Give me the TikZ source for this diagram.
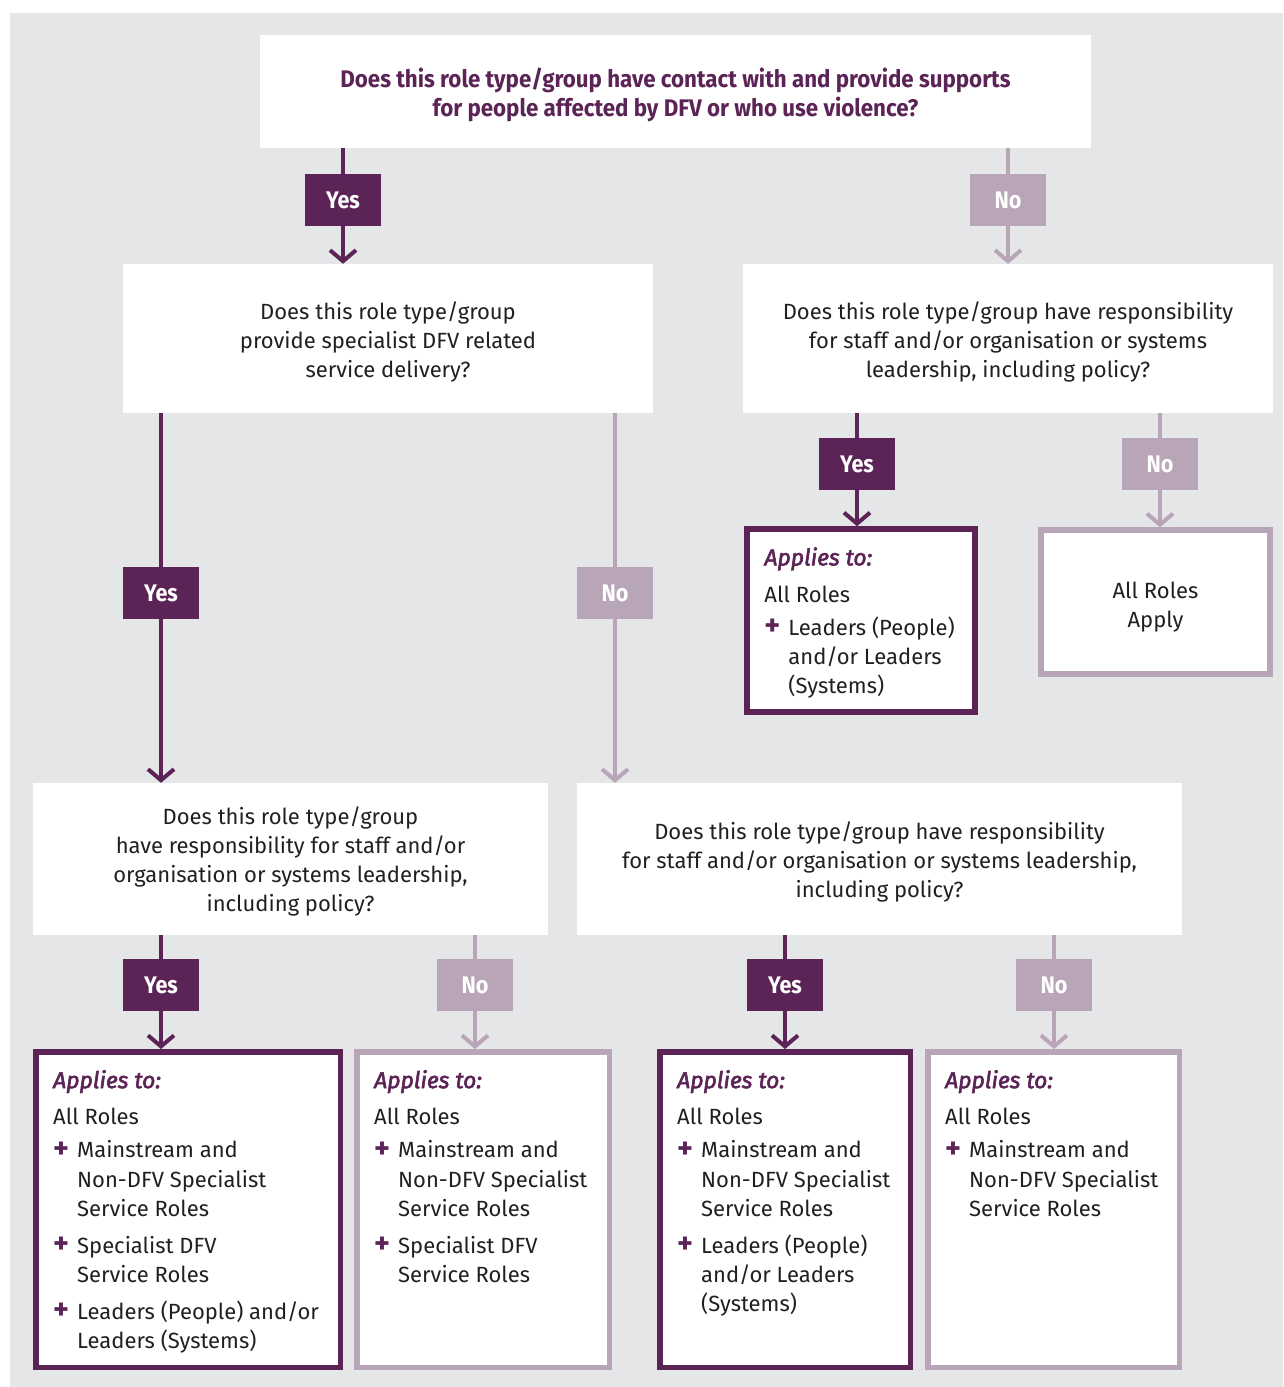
\documentclass[tikz,border=0pt]{standalone}
\usepackage{fontspec}
\setmainfont{Fira Sans}
\newfontfamily\condf[FakeStretch=0.93]{Fira Sans}
\newfontfamily\labf[FakeStretch=0.9]{Fira Sans}
\newfontfamily\applf[FakeBold=2.5]{Fira Sans}
\usetikzlibrary{arrows.meta}
\definecolor{dpurple}{HTML}{5B2356}
\definecolor{lpurple}{HTML}{B9A5B8}
\definecolor{bggrey}{HTML}{E5E6E8}
\definecolor{txt}{HTML}{231F20}
\newcommand\appl{{\applf\itshape\color{dpurple}\fontsize{23}{29}\selectfont Applies to:}}
\newcommand\plusit{\makebox[24pt][l]{\textcolor{dpurple}{\bfseries\fontsize{30}{29}\selectfont\raisebox{-0.5pt}{+}}}}
\newcommand\indt{\hspace*{24pt}}
\begin{document}
\begin{tikzpicture}[x=1pt,y=-1pt,
  qbox/.style={fill=white, draw=none, inner sep=0pt},
  qtext/.style={inner sep=0pt, align=center, text=txt,
    font=\fontsize{22}{29}\selectfont},
  ttext/.style={qtext, text=dpurple, font=\condf\bfseries\fontsize{24}{29}\selectfont},
  ylab/.style={fill=dpurple, text=white, minimum width=76pt, minimum height=52pt,
    inner sep=0pt, text height=17pt, text depth=0pt,
    font=\labf\bfseries\fontsize{24}{28}\selectfont},
  nlab/.style={ylab, fill=lpurple},
  dbox/.style={draw=dpurple, line width=5.5pt, fill=white, inner sep=0pt},
  lbox/.style={dbox, draw=lpurple},
  btext/.style={anchor=north west, inner sep=0pt, align=left, text=txt,
    font=\fontsize{22}{29.3}\selectfont},
  dline/.style={draw=dpurple, line width=4pt},
  lline/.style={draw=lpurple, line width=4pt},
  dar/.style={dline, -{Straight Barb[length=11pt,width=26pt,line join=miter]}},
  lar/.style={lline, -{Straight Barb[length=11pt,width=26pt,line join=miter]}}
]
\useasboundingbox (0,0) rectangle (1283,1387);
\fill[white] (0,0) rectangle (1283,1387);
\fill[bggrey] (10,13) rectangle (1283,1387);

% question boxes
\node[qbox, minimum width=831pt, minimum height=113pt] (q1) at (675.5,91.5) {};
\node[ttext] (q1t) at ([yshift=-3pt]q1.center)
  {Does this role type/group have contact with and provide supports\\
   for people affected by DFV or who use violence?};
\node[qbox, minimum width=530pt, minimum height=149pt] (q2l) at (388,338.5) {};
\node[qtext] (q2lt) at ([yshift=-3pt]q2l.center)
  {Does this role type/group\\provide specialist DFV related\\service delivery?};
\node[qbox, minimum width=530pt, minimum height=149pt] (q2r) at (1008,338.5) {};
\node[qtext] (q2rt) at ([yshift=-3pt]q2r.center)
  {Does this role type/group have responsibility\\for staff and/or organisation or systems\\leadership, including policy?};
\node[qbox, minimum width=515pt, minimum height=152pt] (q3l) at (290.5,859) {};
\node[qtext] (q3lt) at ([yshift=-2.5pt]q3l.center)
  {Does this role type/group\\have responsibility for staff and/or\\organisation or systems leadership,\\including policy?};
\node[qbox, minimum width=605pt, minimum height=152pt] (q3r) at (879.5,859) {};
\node[qtext] (q3rt) at ([yshift=-3pt]q3r.center)
  {Does this role type/group have responsibility\\for staff and/or organisation or systems leadership,\\including policy?};

% labels
\node[ylab] (yes1) at (343,200) {Yes};
\node[nlab] (no1) at (1008,200) {No};
\node[ylab] (yes2) at (161,593) {Yes};
\node[nlab] (no2) at (615,593) {No};
\node[ylab] (yes3) at (857,464) {Yes};
\node[nlab] (no3) at (1160,464) {No};
\node[ylab] (yes4) at (161,985) {Yes};
\node[nlab] (no4) at (475,985) {No};
\node[ylab] (yes5) at (785,985) {Yes};
\node[nlab] (no5) at (1054,985) {No};

% answer boxes
\node[dbox, minimum width=228pt, minimum height=183pt] (a1) at (861,620.5) {};
\node[lbox, minimum width=229pt, minimum height=144pt] (a2) at (1155.5,602) {};
\node[qtext] (a2t) at ([yshift=-5pt]a2.center) {All Roles\\Apply};
\node[dbox, minimum width=304.5pt, minimum height=315.5pt] (b1) at (188,1209.5) {};
\node[lbox, minimum width=252.5pt, minimum height=315.5pt] (b2) at (483,1209.5) {};
\node[dbox, minimum width=250.5pt, minimum height=315.5pt] (b3) at (785,1209.5) {};
\node[lbox, minimum width=251.5pt, minimum height=315.5pt] (b4) at (1053.5,1209.5) {};

% texts of answer boxes
\node[btext] (a1t) at ([shift={(20,21)}]a1.north west)
  {\appl\\[7.5pt]
   All Roles\\[3.5pt]
   \plusit Leaders (People)\\
   \indt and/or Leaders\\
   \indt (Systems)};
\node[btext] (b1t) at ([shift={(20,21)}]b1.north west)
  {\appl\\[7.5pt]
   All Roles\\[3.5pt]
   \plusit Mainstream and\\
   \indt Non-DFV Specialist\\
   \indt Service Roles\\[7.5pt]
   \plusit Specialist DFV\\
   \indt Service Roles\\[7.5pt]
   \plusit Leaders (People) and/or\\
   \indt Leaders (Systems)};
\node[btext] (b2t) at ([shift={(20,21)}]b2.north west)
  {\appl\\[7.5pt]
   All Roles\\[3.5pt]
   \plusit Mainstream and\\
   \indt Non-DFV Specialist\\
   \indt Service Roles\\[7.5pt]
   \plusit Specialist DFV\\
   \indt Service Roles};
\node[btext] (b3t) at ([shift={(20,21)}]b3.north west)
  {\appl\\[7.5pt]
   All Roles\\[3.5pt]
   \plusit Mainstream and\\
   \indt Non-DFV Specialist\\
   \indt Service Roles\\[7.5pt]
   \plusit Leaders (People)\\
   \indt and/or Leaders\\
   \indt (Systems)};
\node[btext] (b4t) at ([shift={(20,21)}]b4.north west)
  {\appl\\[7.5pt]
   All Roles\\[3.5pt]
   \plusit Mainstream and\\
   \indt Non-DFV Specialist\\
   \indt Service Roles};

% connectors
\draw[dline] (yes1.north |- q1.south) -- (yes1.north);
\draw[dar] (yes1.south) -- (yes1.south |- q2l.north);
\draw[lline] (no1.north |- q1.south) -- (no1.north);
\draw[lar] (no1.south) -- (no1.south |- q2r.north);

\draw[dline] (yes2.north |- q2l.south) -- (yes2.north);
\draw[dar] (yes2.south) -- (yes2.south |- q3l.north);
\draw[lline] (no2.north |- q2l.south) -- (no2.north);
\draw[lar] (no2.south) -- (no2.south |- q3r.north);

\draw[dline] (yes3.north |- q2r.south) -- (yes3.north);
\draw[dar] (yes3.south) -- (yes3.south |- a1.north);
\draw[lline] (no3.north |- q2r.south) -- (no3.north);
\draw[lar] (no3.south) -- (no3.south |- a2.north);

\draw[dline] (yes4.north |- q3l.south) -- (yes4.north);
\draw[dar] (yes4.south) -- (yes4.south |- b1.north);
\draw[lline] (no4.north |- q3l.south) -- (no4.north);
\draw[lar] (no4.south) -- (no4.south |- b2.north);
\draw[dline] (yes5.north |- q3r.south) -- (yes5.north);
\draw[dar] (yes5.south) -- (yes5.south |- b3.north);
\draw[lline] (no5.north |- q3r.south) -- (no5.north);
\draw[lar] (no5.south) -- (no5.south |- b4.north);
\end{tikzpicture}
\end{document}
